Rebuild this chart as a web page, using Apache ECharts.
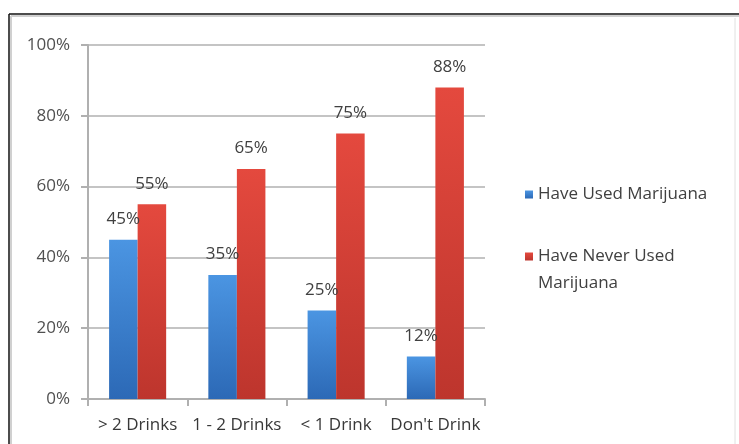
<!DOCTYPE html>
<html><head><meta charset="utf-8">
<script src="https://cdn.jsdelivr.net/npm/echarts@6/dist/echarts.min.js"></script>
<style>html,body{margin:0;padding:0;background:#fff}#c{width:739px;height:444px}</style>
</head><body><div id="c"></div>
<script>
const categories = ['> 2 Drinks', '1 - 2 Drinks', '< 1 Drink', "Don't Drink"];
const usedValues = [45, 35, 25, 12];
const neverValues = [55, 65, 75, 88];
const seriesNames = ['Have Used Marijuana', 'Have Never Used Marijuana'];
const yTicks = [0, 20, 40, 60, 80, 100];

const FONT = 'Open Sans';
const FS = 17;
const chart = echarts.init(document.getElementById('c'), null, {renderer: 'canvas'});
const grad = (a, b) => new echarts.graphic.LinearGradient(0, 0, 0, 1, [{offset: 0, color: a}, {offset: 1, color: b}]);
chart.setOption({
  animation: false,
  backgroundColor: '#fff',
  textStyle: {fontFamily: FONT},
  graphic: [
    {type: 'line', shape: {x1: 11, y1: 16, x2: 739, y2: 16}, style: {stroke: '#d0d0d0', lineWidth: 2}},
    {type: 'line', shape: {x1: 11, y1: 16, x2: 11, y2: 444}, style: {stroke: '#d0d0d0', lineWidth: 2}},
    {type: 'line', shape: {x1: 9, y1: 14, x2: 739, y2: 14}, style: {stroke: '#111', lineWidth: 1.5}},
    {type: 'line', shape: {x1: 9, y1: 14, x2: 9, y2: 444}, style: {stroke: '#111', lineWidth: 1.5}},
    {type: 'line', shape: {x1: 735, y1: 18, x2: 735, y2: 444}, style: {stroke: '#e0e0e0', lineWidth: 1}}
  ],
  grid: {left: 88, right: 254, top: 45, bottom: 45},
  legend: [
    {orient: 'vertical', left: 520, top: 181, data: [seriesNames[0]], icon: 'rect', itemWidth: 8, itemHeight: 8,
     textStyle: {fontFamily: FONT, fontSize: FS, color: '#404040'}},
    {orient: 'vertical', left: 520, top: 211, data: [seriesNames[1]], icon: 'rect', itemWidth: 8, itemHeight: 8,
     formatter: n => ' \nHave Never Used\nMarijuana',
     textStyle: {fontFamily: FONT, fontSize: FS, color: '#404040', lineHeight: 27}}
  ],
  xAxis: {
    type: 'category', data: categories,
    axisLine: {lineStyle: {color: '#b0b0b0', width: 2}},
    axisTick: {show: true, length: 7, lineStyle: {color: '#b0b0b0', width: 2}},
    axisLabel: {interval: 0, fontFamily: FONT, fontSize: FS, color: '#383838', margin: 18}
  },
  yAxis: {
    type: 'value', min: 0, max: 100, interval: 20,
    axisLine: {show: true, lineStyle: {color: '#b0b0b0', width: 2}},
    axisTick: {show: true, length: 7, lineStyle: {color: '#b0b0b0', width: 2}},
    splitLine: {lineStyle: {color: '#c4c4c4', width: 2}},
    axisLabel: {fontFamily: FONT, fontSize: FS, color: '#505050', margin: 18,
      formatter: v => yTicks.includes(v) ? v + '%' : ''}
  },
  series: [
    {name: seriesNames[0], type: 'bar', data: usedValues, barGap: '0%', barCategoryGap: '42.5%',
     itemStyle: {color: grad('#4b95e2', '#2c69b6')},
     label: {show: true, position: 'top', distance: 12, formatter: '{c}%', fontFamily: FONT, fontSize: FS, color: '#404040'}},
    {name: seriesNames[1], type: 'bar', data: neverValues, barGap: '0%', barCategoryGap: '42.5%',
     itemStyle: {color: grad('#e4493e', '#bd352d')},
     label: {show: true, position: 'top', distance: 12, formatter: '{c}%', fontFamily: FONT, fontSize: FS, color: '#404040'}}
  ]
});
</script></body></html>
